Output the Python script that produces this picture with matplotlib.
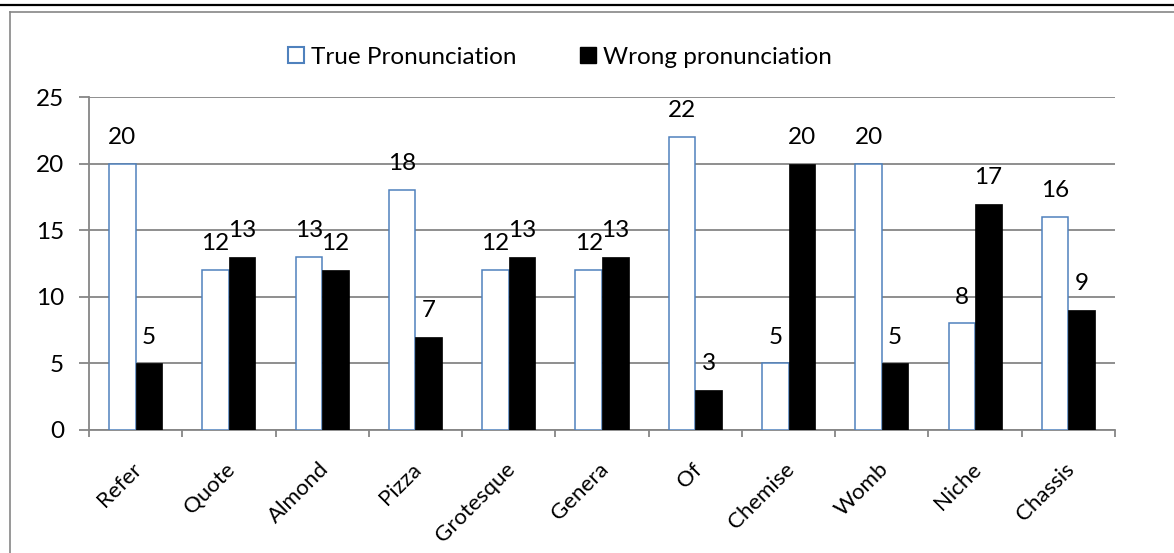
import numpy as np
import matplotlib.pyplot as plt
import matplotlib.transforms as mtransforms
from matplotlib.lines import Line2D
from matplotlib.patches import Rectangle

# ---------------- DATA ----------------
words = ["Refer", "Quote", "Almond", "Pizza", "Grotesque", "Genera",
         "Of", "Chemise", "Womb", "Niche", "Chassis"]
true_counts = [20, 12, 13, 18, 12, 12, 22, 5, 20, 8, 16]
wrong_counts = [5, 13, 12, 7, 13, 13, 3, 20, 5, 17, 9]
y_ticks = [0, 5, 10, 15, 20, 25]

# ---------------- STYLE ----------------
plt.rcParams['font.family'] = ['Lato', 'DejaVu Sans']
FS = 17.5
GRAY = "#868686"
BLUE = "#4F81BD"

W, H = 1174, 553
fig = plt.figure(figsize=(W / 100, H / 100), dpi=100)
ax = fig.add_axes([89 / W, 1 - 430 / H, (1115 - 89) / W, (430 - 97) / H])

x = np.arange(len(words))
bw = 0.285
ax.bar(x - bw / 2, true_counts, bw, facecolor="white", edgecolor=BLUE,
       linewidth=1.1, zorder=3)
ax.bar(x + bw / 2, wrong_counts, bw, facecolor="black", edgecolor="black",
       linewidth=0.5, zorder=3)

# value labels
for xi, v in zip(x - bw / 2, true_counts):
    ax.annotate(str(v), (xi, v), xytext=(0, 19), textcoords="offset points",
                ha="center", va="center", fontsize=FS)
for xi, v in zip(x + bw / 2, wrong_counts):
    ax.annotate(str(v), (xi, v), xytext=(0, 19), textcoords="offset points",
                ha="center", va="center", fontsize=FS)

# axes
ax.set_xlim(-0.5, len(words) - 0.5)
ax.set_ylim(0, 25)
ax.set_yticks(y_ticks)
ax.set_yticklabels([str(t) for t in y_ticks], fontsize=FS)
ax.yaxis.grid(True, color=GRAY, linewidth=1.3, zorder=0)
ax.set_axisbelow(True)

ax.set_xticks(np.arange(len(words) + 1) - 0.5)
ax.set_xticklabels([])
ax.set_xticks(x, minor=True)
ax.set_xticklabels(words, minor=True, rotation=45, ha="right", va="top",
                   rotation_mode="anchor", fontsize=16)
ax.tick_params(axis="x", which="minor", length=0, pad=21)
ax.tick_params(axis="x", which="major", length=5, width=1.3, color=GRAY)
ax.tick_params(axis="y", length=7, width=1.3, color=GRAY, pad=11)

# nudge the slanted labels a little to the left
shift = mtransforms.ScaledTranslation(-4 / 100, 0, fig.dpi_scale_trans)
for lbl in ax.get_xticklabels(minor=True):
    lbl.set_transform(lbl.get_transform() + shift)

for s in ["top", "right"]:
    ax.spines[s].set_visible(False)
for s in ["left", "bottom"]:
    ax.spines[s].set_color(GRAY)
    ax.spines[s].set_linewidth(1.3)

# legend
handles = [Rectangle((0, 0), 1, 1, facecolor="white", edgecolor=BLUE, linewidth=1.5),
           Rectangle((0, 0), 1, 1, facecolor="black", edgecolor="black")]
fig.legend(handles, ["True Pronunciation", "Wrong pronunciation"],
           loc="center", bbox_to_anchor=(560 / W, 1 - 57 / H), ncol=2,
           frameon=False, fontsize=FS, handlelength=0.65, handleheight=0.65,
           handletextpad=0.3, columnspacing=2.6)

# outer frame
fig.add_artist(Line2D([0, 1], [1 - 5 / H, 1 - 5 / H], color="black", linewidth=1.6))
fig.add_artist(Line2D([10 / W, 1], [1 - 12 / H, 1 - 12 / H], color=GRAY, linewidth=1.2))
fig.add_artist(Line2D([10 / W, 10 / W], [0, 1 - 12 / H], color=GRAY, linewidth=1.2))

fig.savefig("out.png", dpi=100)
